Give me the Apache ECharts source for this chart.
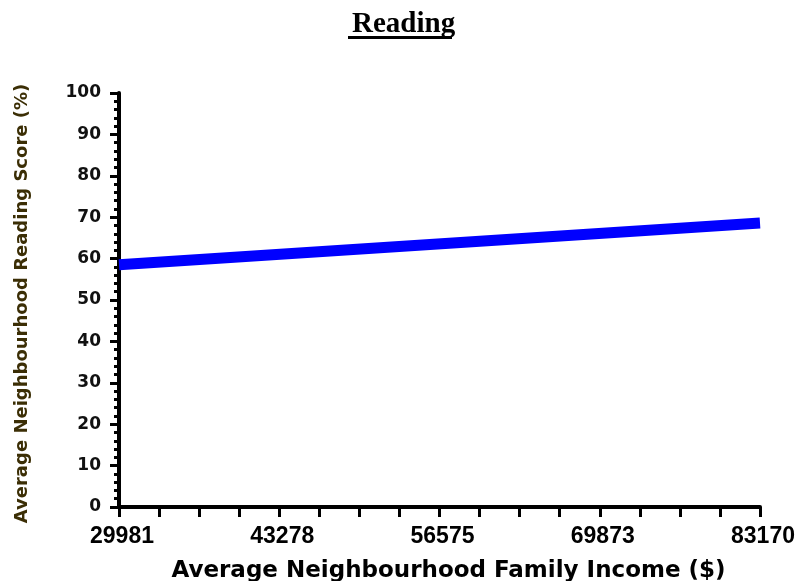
<!DOCTYPE html>
<html>
<head>
<meta charset="utf-8">
<script src="https://cdn.jsdelivr.net/npm/echarts@6/dist/echarts.min.js"></script>
<style>
  html, body { margin: 0; padding: 0; background: #fff; }
  #chart { width: 808px; height: 581px; }
</style>
</head>
<body>
<div id="chart"></div>
<script>
// 收入（横轴）与阅读分数（纵轴）
const incomeValues = [29981, 83170];
const readingScores = [58.5, 68.6];
// 横轴刻度标签
const incomeTickLabels = [29981, 43278, 56575, 69873, 83170];

// 每两个标签之间再分 4 段小刻度
const incomeTicks = [];
for (let i = 0; i < incomeTickLabels.length - 1; i++) {
  const a = incomeTickLabels[i], b = incomeTickLabels[i + 1];
  for (let k = 0; k < 4; k++) incomeTicks.push(a + (b - a) * k / 4);
}
incomeTicks.push(incomeTickLabels[incomeTickLabels.length - 1]);

const chart = echarts.init(document.getElementById('chart'), null, { renderer: 'canvas' });

const option = {
  backgroundColor: '#fff',
  animation: false,
  title: {
    text: 'Reading',
    left: 347,
    top: 5,
    textStyle: {
      fontFamily: 'Liberation Serif',
      fontWeight: 'bold',
      fontSize: 29,
      color: '#000'
    }
  },
  graphic: [
    {
      // 标题下划线
      type: 'rect',
      shape: { x: 348, y: 36, width: 104, height: 3 },
      style: { fill: '#000' }
    }
  ],
  grid: {
    left: 119,
    right: 48,
    top: 93,
    bottom: 74,
    outerBoundsMode: 'none'
  },
  xAxis: {
    type: 'value',
    min: incomeTickLabels[0],
    max: incomeTickLabels[incomeTickLabels.length - 1],
    name: 'Average Neighbourhood Family Income ($)',
    nameLocation: 'middle',
    nameGap: 53,
    nameTextStyle: {
      fontFamily: 'DejaVu Sans',
      fontWeight: 'bold',
      fontSize: 23,
      color: '#000',
      padding: [0, 0, 0, 18]
    },
    axisLine: { show: true, onZero: false, lineStyle: { color: '#000', width: 4 } },
    axisTick: {
      show: true,
      customValues: incomeTicks,
      length: 10,
      lineStyle: { color: '#000', width: 3 }
    },
    axisLabel: {
      customValues: incomeTickLabels,
      margin: 18,
      fontFamily: 'Liberation Sans',
      fontWeight: 'bold',
      fontSize: 23,
      color: '#000',
      padding: [0, 0, 0, 6],
      formatter: v => String(Math.round(v))
    },
    splitLine: { show: false }
  },
  yAxis: {
    type: 'value',
    min: 0,
    max: 100,
    interval: 10,
    name: 'Average Neighbourhood Reading Score (%)',
    nameLocation: 'middle',
    nameRotate: 90,
    nameGap: 88,
    nameTextStyle: {
      fontFamily: 'DejaVu Sans',
      fontWeight: 'bold',
      fontSize: 18,
      color: '#3b2e05',
      padding: [0, 7, 0, 0]
    },
    axisLine: { show: true, lineStyle: { color: '#000', width: 4 } },
    axisTick: { show: true, length: 9, lineStyle: { color: '#000', width: 3 } },
    minorTick: { show: true, splitNumber: 5, length: 5, lineStyle: { color: '#000', width: 3 } },
    axisLabel: {
      margin: 18,
      fontFamily: 'DejaVu Sans',
      fontWeight: 'bold',
      fontSize: 17,
      color: '#111'
    },
    splitLine: { show: false },
    minorSplitLine: { show: false }
  },
  series: [
    {
      type: 'line',
      data: incomeValues.map((x, i) => [x, readingScores[i]]),
      symbol: 'none',
      lineStyle: { color: '#0000ff', width: 11, cap: 'butt' },
      z: 1
    }
  ]
};

chart.setOption(option);
</script>
</body>
</html>
